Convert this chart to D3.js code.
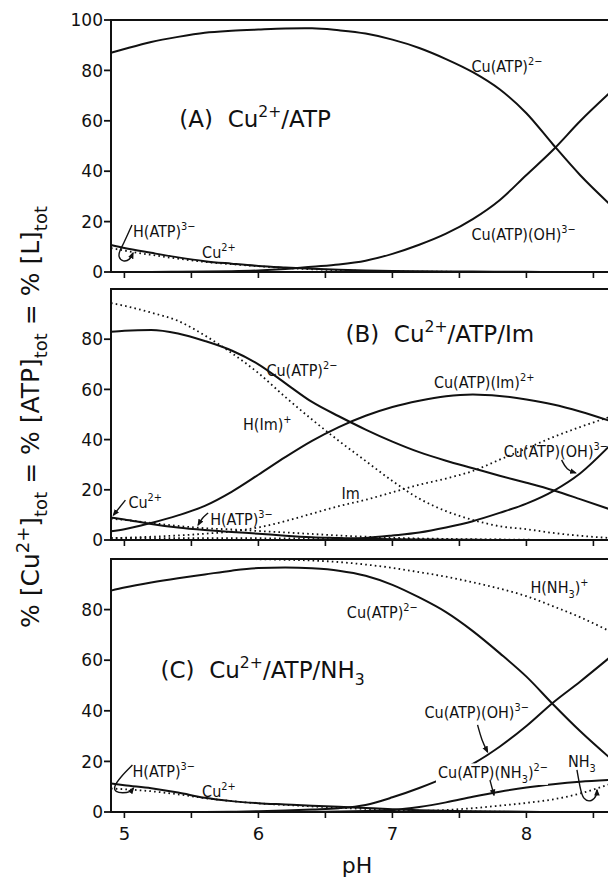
<!DOCTYPE html>
<html>
<head>
<meta charset="utf-8">
<script src="https://cdn.jsdelivr.net/npm/d3@7"></script>
<style>
body { margin: 0; background: #fff; }
text { font-family: "DejaVu Sans Condensed", "DejaVu Sans", sans-serif; fill: #111; }
.wide { font-family: "DejaVu Sans", sans-serif; white-space: pre; }
</style>
</head>
<body>
<script>
// pH grid shared by every curve
var pH = [4.9, 5.0, 5.2, 5.4, 5.6, 5.8, 6.0, 6.2, 6.4, 6.6, 6.8, 7.0, 7.2, 7.4, 7.6, 7.8, 8.0, 8.2, 8.4, 8.62];

// (A) Cu2+/ATP
var cuAtpA   = [87, 88.5, 91.3, 93.3, 94.9, 95.7, 96.2, 96.6, 96.7, 95.9, 94.6, 92.2, 88.9, 84.5, 79.3, 72.5, 63, 50.5, 38.5, 27];
var cuAtpOhA = [0, 0, 0, 0.1, 0.2, 0.3, 0.6, 1.2, 2.1, 3.0, 4.5, 7.2, 10.8, 15.2, 21, 28.5, 38.5, 48.5, 59.8, 71];
var cuA      = [10.7, 9.5, 7.6, 5.8, 4.3, 3.3, 2.4, 1.8, 1.3, 0.9, 0.6, 0.4, 0.3, 0.2, 0.15, 0.1, 0.1, 0, 0, 0];
var hAtpA    = [9.5, 8.5, 6.8, 5.3, 4.0, 3.1, 2.3, 1.6, 1.1, 0.7, 0.4, 0.25, 0.15, 0.1, 0.05, 0, 0, 0, 0, 0];

// (B) Cu2+/ATP/Im
var hImB     = [94.4, 93.3, 90.6, 87.3, 81.5, 74.5, 66.5, 57, 48, 39.5, 31.5, 23.5, 16.5, 11.5, 8, 5.5, 4.3, 2.8, 1.7, 0.8];
var cuAtpB   = [83, 83.4, 83.7, 82.3, 79.3, 75.5, 70, 62.5, 55, 49.3, 44, 39.2, 35, 31.6, 28.6, 25.6, 22.8, 19.8, 16.3, 12.3];
var cuAtpImB = [3.5, 4.3, 6.8, 9.8, 13.6, 19.2, 26, 33, 39.5, 45, 49.5, 53, 55.5, 57.3, 58, 57.4, 56, 54, 51.2, 47.5];
var cuAtpOhB = [0, 0, 0, 0, 0, 0, 0, 0, 0, 0.3, 0.8, 1.8, 3, 5, 7.5, 10.8, 14.5, 19.5, 26.5, 37.5];
var imB      = [0.8, 0.9, 1.3, 1.8, 2.5, 3.4, 5, 7.5, 10.5, 13.5, 16, 19, 22, 24.5, 27.5, 32, 36.5, 41, 45, 49];
var cuB      = [9, 8.2, 6.4, 5, 4, 3.2, 2.5, 1.7, 1.1, 0.8, 0.5, 0.3, 0.2, 0.1, 0.1, 0, 0, 0, 0, 0];
var hAtpB    = [8.5, 8.0, 6.8, 5.6, 4.7, 4.2, 3.6, 3.0, 2.4, 1.8, 1.3, 0.9, 0.6, 0.45, 0.3, 0.2, 0.1, 0.05, 0, 0];
var lowB     = [0.7, 0.7, 0.7, 0.7, 0.7, 0.7, 0.7, 0.6, 0.6, 0.6, 0.5, 0.4, 0.3, 0.2, 0.1, 0.1, 0, 0, 0, 0];

// (C) Cu2+/ATP/NH3
var cuAtpC    = [87.5, 88.7, 90.7, 92.4, 93.9, 95.4, 96.4, 96.6, 96.3, 95.4, 93.4, 89.8, 84.8, 79, 71.5, 62.8, 53.5, 42.5, 32, 21.5];
var cuAtpOhC  = [0, 0, 0, 0, 0, 0.1, 0.3, 0.6, 1, 1.5, 2.8, 5.8, 9.5, 13.8, 19, 25.8, 34, 43.3, 51.5, 61];
var cuAtpNh3C = [0, 0, 0, 0, 0, 0, 0, 0, 0.1, 0.2, 0.4, 0.8, 2, 3.8, 6, 8, 9.7, 11, 12, 12.7];
var nh3C      = [0, 0, 0, 0, 0, 0, 0, 0, 0, 0, 0, 0.2, 0.4, 0.8, 1.5, 2.5, 3.6, 5, 7.3, 11];
var hNh3C     = [100, 100, 100, 100, 100, 100, 99.9, 99.7, 99.4, 98.8, 97.8, 96.5, 94.8, 93, 90.8, 88.3, 85.3, 81.3, 77, 71.5];
var cuC       = [11.3, 10.6, 9.4, 7.7, 5.6, 4.3, 3.5, 3.0, 2.5, 2.1, 1.6, 1.1, 0.7, 0.5, 0.3, 0.2, 0.1, 0, 0, 0];
var hAtpC     = [9.3, 9.0, 8.2, 7.0, 5.5, 4.3, 3.4, 2.8, 2.2, 1.7, 1.2, 0.8, 0.5, 0.3, 0.2, 0.1, 0.05, 0, 0, 0];

var yTicksA = [0, 20, 40, 60, 80, 100];
var yTicksBC = [0, 20, 40, 60, 80];
var xMinor = [5, 5.5, 6, 6.5, 7, 7.5, 8, 8.5];
var xLabels = [5, 6, 7, 8];

var panels = [
  { top: 20, bottom: 272, yTicks: yTicksA,
    title: { t: "(A)  Cu^{2+}/ATP", x: 5.41, y: 57.5 },
    series: [
      { v: cuAtpA, dot: false }, { v: cuAtpOhA, dot: false }, { v: cuA, dot: false }, { v: hAtpA, dot: true }
    ],
    labels: [
      { t: "Cu(ATP)^{2−}", x: 7.59, y: 79.4 },
      { t: "Cu(ATP)(OH)^{3−}", x: 7.59, y: 12.7 },
      { t: "H(ATP)^{3−}", x: 5.064, y: 13.9, arrow: [[-1,-12],[-10,8],[-13,13],[-15,20],[-10,25],[-3,23],[0,16]] },
      { t: "Cu^{2+}", x: 5.58, y: 5.6 }
    ] },
  { top: 289, bottom: 540, yTicks: yTicksBC,
    title: { t: "(B)  Cu^{2+}/ATP/Im", x: 6.65, y: 78.9 },
    series: [
      { v: hImB, dot: true }, { v: cuAtpB, dot: false }, { v: cuAtpImB, dot: false }, { v: cuAtpOhB, dot: false },
      { v: imB, dot: true }, { v: cuB, dot: false }, { v: hAtpB, dot: true }, { v: lowB, dot: true }
    ],
    labels: [
      { t: "Cu(ATP)^{2−}", x: 6.06, y: 65.3 },
      { t: "H(Im)^{+}", x: 5.885, y: 43.8 },
      { t: "Cu(ATP)(Im)^{2+}", x: 7.31, y: 60.6 },
      { t: "Cu(ATP)(OH)^{3−}", x: 7.83, y: 33.1, arrow: [[58,3],[63,13],[72,16]] },
      { t: "Im", x: 6.62, y: 16.3 },
      { t: "Cu^{2+}", x: 5.03, y: 12.7, arrow: [[-3,-8],[-15,7]] },
      { t: "H(ATP)^{3−}", x: 5.64, y: 6, arrow: [[-2,-12],[-8,-7],[-12,0]] }
    ] },
  { top: 559, bottom: 812, yTicks: yTicksBC,
    title: { t: "(C)  Cu^{2+}/ATP/NH_{3}", x: 5.27, y: 53 },
    series: [
      { v: cuAtpC, dot: false }, { v: cuAtpOhC, dot: false }, { v: cuAtpNh3C, dot: false }, { v: nh3C, dot: true },
      { v: hNh3C, dot: true }, { v: cuC, dot: false }, { v: hAtpC, dot: true }
    ],
    labels: [
      { t: "Cu(ATP)^{2−}", x: 6.66, y: 76.7 },
      { t: "H(NH_{3})^{+}", x: 8.03, y: 86.6 },
      { t: "Cu(ATP)(OH)^{3−}", x: 7.24, y: 37.2, arrow: [[53,7],[57,22],[63,34]] },
      { t: "Cu(ATP)(NH_{3})^{2−}", x: 7.34, y: 13.4, knock: true, arrow: [[52,2],[56,17]] },
      { t: "NH_{3}", x: 8.31, y: 17.8, arrow: [[9,3],[12,20],[15,33],[24,35],[29,28],[29,23]] },
      { t: "H(ATP)^{3−}", x: 5.06, y: 13.8, arrow: [[0,-12],[-12,0],[-19,10],[-17,15],[-10,16],[-2,15],[1,11]] },
      { t: "Cu^{2+}", x: 5.58, y: 5.9 }
    ] }
];

var W = 608, H = 877;
var svg = d3.select("body").append("svg").attr("width", W).attr("height", H);

svg.append("defs").append("marker")
  .attr("id", "head").attr("viewBox", "0 0 10 10").attr("refX", 8).attr("refY", 5)
  .attr("markerWidth", 7).attr("markerHeight", 7).attr("markerUnits", "userSpaceOnUse")
  .attr("orient", "auto")
  .append("path").attr("d", "M0,1L10,5L0,9Z").attr("fill", "#111");

var x = d3.scaleLinear().domain([4.9, 8.62]).range([111, 609.5]);

// text with ^{sup} and _{sub}
function rich(sel, str, fs, small) {
  small = small || 0.68;
  var parts = str.split(/(\^\{[^}]*\}|_\{[^}]*\})/).filter(function(p) { return p.length; });
  var shift = 0;
  parts.forEach(function(p) {
    var kind = 0, s = p;
    if (p[0] === "^") { kind = -1; s = p.slice(2, -1); }
    else if (p[0] === "_") { kind = 1; s = p.slice(2, -1); }
    var target = kind === 0 ? 0 : (kind < 0 ? -0.42 * fs : 0.3 * fs);
    var ts = sel.append("tspan").text(s);
    if (target - shift) ts.attr("dy", target - shift);
    if (kind) ts.attr("font-size", fs * small);
    shift = target;
  });
}

panels.forEach(function(p, pi) {
  var y = d3.scaleLinear().domain([0, 100]).range([p.bottom, p.top]);
  var g = svg.append("g");

  // frame
  g.append("line").attr("x1", 111).attr("x2", W + 2).attr("y1", y(100)).attr("y2", y(100))
    .attr("stroke", "#111").attr("stroke-width", 2);
  g.append("line").attr("x1", 111).attr("x2", W + 2).attr("y1", y(0)).attr("y2", y(0))
    .attr("stroke", "#111").attr("stroke-width", 2);
  g.append("line").attr("x1", 111).attr("x2", 111).attr("y1", y(0) + 1).attr("y2", y(100) - 1)
    .attr("stroke", "#111").attr("stroke-width", 2);

  // x ticks (outward)
  g.selectAll(".xt").data(xMinor).enter().append("line")
    .attr("x1", function(d) { return x(d); }).attr("x2", function(d) { return x(d); })
    .attr("y1", y(0)).attr("y2", y(0) + 6)
    .attr("stroke", "#111").attr("stroke-width", 1.6);

  // y ticks + labels
  g.selectAll(".yt").data(p.yTicks).enter().append("line")
    .attr("x1", 104).attr("x2", 111)
    .attr("y1", function(d) { return y(d); }).attr("y2", function(d) { return y(d); })
    .attr("stroke", "#111").attr("stroke-width", 1.8);
  g.selectAll(".yl").data(p.yTicks).enter().append("text")
    .attr("x", 103).attr("y", function(d) { return y(d); }).attr("dy", "0.36em")
    .attr("text-anchor", "end").attr("font-size", 17)
    .attr("class", "wide")
    .text(function(d) { return d; });

  // curves
  var line = d3.line()
    .x(function(d, i) { return x(pH[i]); })
    .y(function(d) { return y(d); })
    .curve(d3.curveMonotoneX);
  p.series.forEach(function(s) {
    g.append("path").attr("d", line(s.v))
      .attr("fill", "none").attr("stroke", "#111")
      .attr("stroke-width", s.dot ? 1.8 : 2)
      .attr("stroke-dasharray", s.dot ? "1.6,3.2" : null)
      .attr("stroke-linejoin", "round");
  });

  // title
  var tt = g.append("text").attr("class", "wide")
    .attr("x", x(p.title.x)).attr("y", y(p.title.y)).attr("font-size", 23);
  rich(tt, p.title.t, 23);

  // species labels
  p.labels.forEach(function(l) {
    var lx = x(l.x), ly = y(l.y);
    var t = g.append("text").attr("x", lx).attr("y", ly).attr("font-size", 16);
    rich(t, l.t, 16);
    if (l.knock) {
      var bb = t.node().getBBox();
      g.insert("rect", function() { return t.node(); })
        .attr("x", bb.x - 2).attr("y", bb.y + 2).attr("width", bb.width + 2).attr("height", bb.height - 3)
        .attr("fill", "#fff");
    }
    if (l.arrow) {
      var pts = l.arrow.map(function(o) { return [lx + o[0], ly + o[1]]; });
      g.append("path").attr("d", d3.line().curve(d3.curveBasis)(pts))
        .attr("fill", "none").attr("stroke", "#111").attr("stroke-width", 1.4)
        .attr("marker-end", "url(#head)");
    }
  });

  if (pi === panels.length - 1) {
    g.selectAll(".xl").data(xLabels).enter().append("text")
      .attr("x", function(d) { return x(d); }).attr("y", 840)
      .attr("text-anchor", "middle").attr("font-size", 18)
      .attr("class", "wide")
      .text(function(d) { return d; });
  }
});

// axis titles
svg.append("text").attr("class", "wide").attr("x", 357).attr("y", 873).attr("text-anchor", "middle")
  .attr("font-size", 22).text("pH");

var yl = svg.append("text").attr("class", "wide").attr("transform", "translate(39,417) rotate(-90)")
  .attr("text-anchor", "middle").attr("font-size", 25);
rich(yl, "% [Cu^{2+}]_{tot} = % [ATP]_{tot} = % [L]_{tot}", 25, 0.72);
</script>
</body>
</html>
